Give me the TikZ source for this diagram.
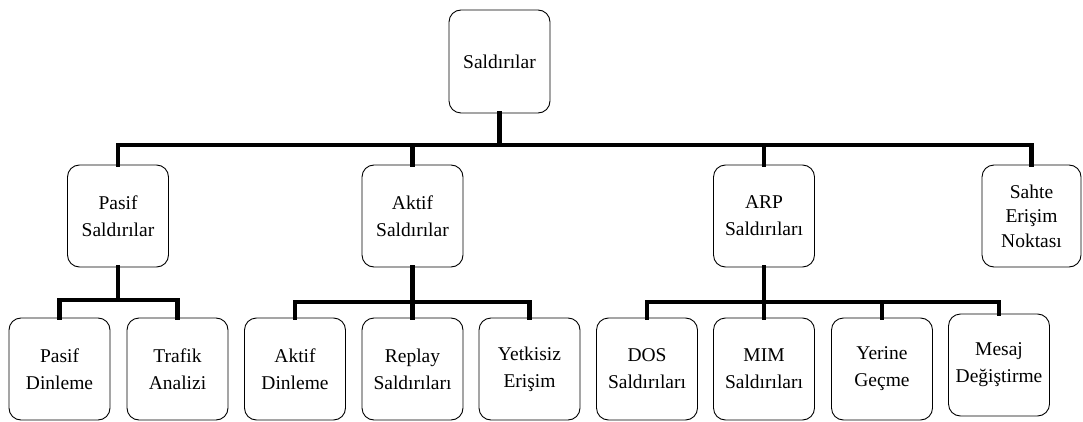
\documentclass[tikz,border=0pt]{standalone}
\usepackage{fontspec}
\setmainfont{Liberation Serif}
\begin{document}
\begin{tikzpicture}[x=1pt,y=-1pt,
  box/.style={draw=black,line width=0.9pt,rounded corners=12pt,
    minimum width=101pt,minimum height=102pt,inner sep=0pt,
    align=center,font=\fontsize{19.5}{27}\selectfont},
  conn/.style={line width=4.5pt,line cap=rect,line join=miter}]
\useasboundingbox (0,0) rectangle (1083,422);

% root
\node[box,minimum height=103pt] (root) at (499.5,61.5) {Saldırılar};

% second level
\node[box] (pasif) at (118,216) {Pasif\\Saldırılar};
\node[box] (aktif) at (412.5,216) {Aktif\\Saldırılar};
\node[box] (arp)   at (764,216) {ARP\\Saldırıları};
\node[box,minimum width=99pt,font=\fontsize{19.5}{24.5}\selectfont] (sahte) at (1031.5,216) {Sahte\\Erişim\\Noktası};

% third level
\node[box] (pdin)  at (59.5,369) {Pasif\\Dinleme};
\node[box] (traf)  at (177.5,369) {Trafik\\Analizi};
\node[box] (adin)  at (295,369) {Aktif\\Dinleme};
\node[box] (repl)  at (412.5,369) {Replay\\Saldırıları};
\node[box] (yetk)  at (529.5,369) {Yetkisiz\\Erişim};
\node[box] (dos)   at (647,369) {DOS\\Saldırıları};
\node[box] (mim)   at (764,369) {MIM\\Saldırıları};
\node[box] (yer)   at (882,369) {Yerine\\Geçme};
\node[box] (mes)   at (999,365) {Mesaj\\Değiştirme};

% bus points
\coordinate (b0) at (499.5,145);
\coordinate (b1) at (118,300);
\coordinate (b2) at (412.5,302);
\coordinate (b3) at (764,302);

% connectors
\draw[conn] (root.south) -- (b0);
\foreach \c in {pasif,aktif,arp,sahte}
  \draw[conn] (b0) -| (\c.north);

\draw[conn] (pasif.south) -- (b1);
\foreach \c in {pdin,traf}
  \draw[conn] (b1) -| (\c.north);

\draw[conn] (aktif.south) -- (b2);
\foreach \c in {adin,repl,yetk}
  \draw[conn] (b2) -| (\c.north);

\draw[conn] (arp.south) -- (b3);
\foreach \c in {dos,mim,yer,mes}
  \draw[conn] (b3) -| (\c.north);
\end{tikzpicture}
\end{document}
